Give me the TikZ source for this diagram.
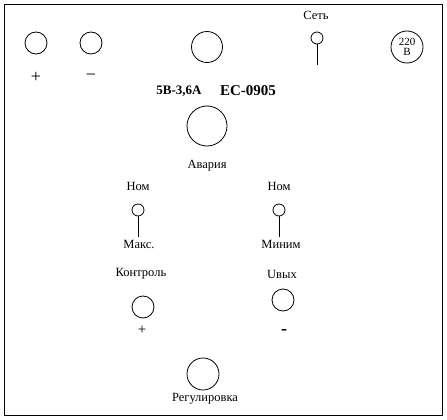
\documentclass[tikz,border=0pt]{standalone}
\usepackage{fontspec}
\setmainfont{Liberation Serif}
\begin{document}
\begin{tikzpicture}[x=1pt,y=-1pt,line width=0.8pt,
  jack/.style={draw,circle,inner sep=0pt,minimum size=#1},
  lbl/.style={inner sep=0pt,font=\fontsize{12.5}{12.5}\selectfont},
  knob/.style={draw,circle,inner sep=0pt,minimum size=12pt}]
\useasboundingbox (0,0) rectangle (447,420);
\node[draw,inner sep=0pt,minimum width=438pt,minimum height=411pt,anchor=north west] (panel) at (4,4) {};
% top row
\node[jack=22pt] (jplus) at (36,43) {};
\node[jack=22pt] (jminus) at (91,43) {};
\node[lbl,font=\fontsize{18}{18}\selectfont] (tplus) at (36,77) {+};
\node[lbl,font=\fontsize{18}{18}\selectfont] (tminus) at (91,77) {−};
\node[jack=31pt] (jbig) at (207,47) {};
\node[lbl] (tset) at (316,15) {Сеть};
\node[knob] (kset) at (317,38) {};
\coordinate (eset) at (317,65);
\draw (kset.south) -- (eset);
\node[jack=32pt,align=center,font=\fontsize{11}{10.5}\selectfont] (j220) at (407,47) {220\\В};
\node[lbl,font=\fontsize{13}{13}\selectfont\bfseries] (tmodel) at (179,91) {5В-3,6А};
\node[lbl,font=\fontsize{15}{15}\selectfont\bfseries] (tcode) at (248,91) {ЕС-0905};
% alarm
\node[jack=40pt] (javar) at (207,126) {};
\node[lbl] (tavar) at (207,166) {Авария};
% switches
\node[lbl] (tnom1) at (138,186) {Ном};
\node[knob] (k1) at (138,210) {};
\coordinate (e1) at (138,237);
\draw (k1.south) -- (e1);
\node[lbl] (tmax) at (139,244) {Макс.};
\node[lbl] (tnom2) at (279,186) {Ном};
\node[knob] (k2) at (279,210) {};
\coordinate (e2) at (279,237);
\draw (k2.south) -- (e2);
\node[lbl] (tmin) at (281,244) {Миним};
% control
\node[lbl] (tctrl) at (141,274) {Контроль};
\node[jack=22pt] (jctrl) at (143,307) {};
\node[lbl,font=\fontsize{15}{15}\selectfont] (tcplus) at (142,330) {+};
\node[lbl] (tuout) at (282,274) {Uвых};
\node[jack=22pt] (juout) at (283,300) {};
\node[lbl,font=\fontsize{18}{18}\selectfont\bfseries] (tuminus) at (284,332) {-};
% regulation
\node[jack=32pt] (jreg) at (203,374) {};
\node[lbl] (treg) at (205,399) {Регулировка};
\end{tikzpicture}
\end{document}
